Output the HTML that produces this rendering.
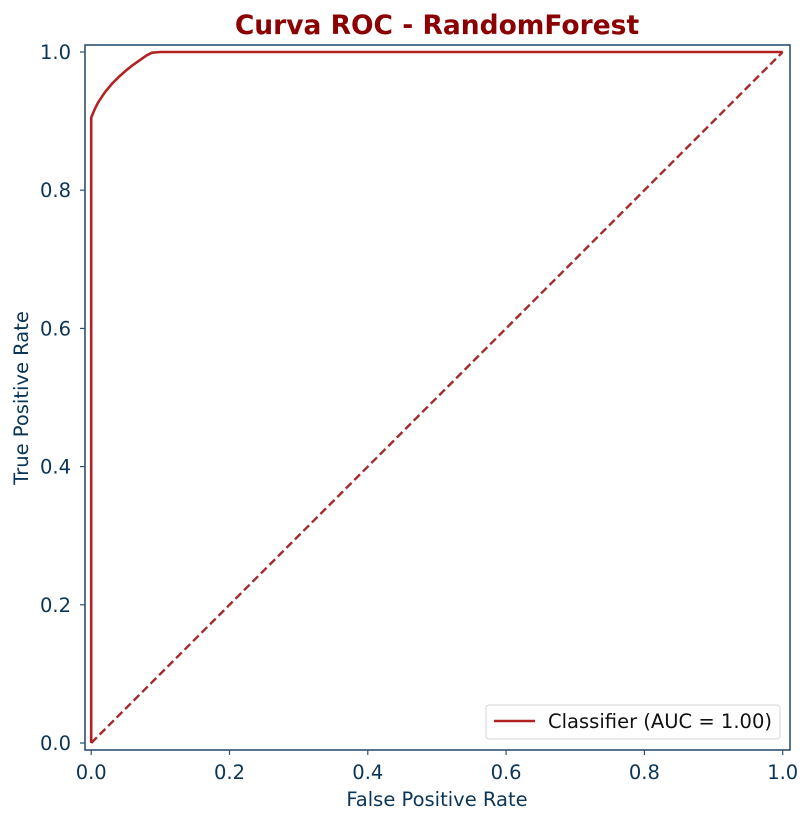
<!DOCTYPE html>
<html><head><meta charset="utf-8"><style>
body{margin:0;background:#fff}
svg{display:block;font-family:"DejaVu Sans","Liberation Sans",sans-serif}
</style></head><body>
<svg id="c" width="812" height="823"></svg>
<script>
const fprValues=[0,0,0.005,0.01,0.02,0.03,0.04,0.05,0.06,0.07,0.08,0.088,0.1,1];
const tprValues=[0,0.905,0.917,0.927,0.942,0.954,0.964,0.973,0.981,0.988,0.995,0.999,1,1];
const diagX=[0,1];
const diagY=[0,1];
const xTicks=[0,0.2,0.4,0.6,0.8,1.0];
const yTicks=[0,0.2,0.4,0.6,0.8,1.0];
const NS="http://www.w3.org/2000/svg";
const svg=document.getElementById('c');
const X=v=>91.2+v*691.5, Y=v=>743-v*691;
function el(t,a,txt){const e=document.createElementNS(NS,t);for(const k in a)e.setAttribute(k,a[k]);if(txt!=null)e.textContent=txt;svg.appendChild(e);return e;}
const navy="#0b3556", spine="#2e5070";
let e=el('text',{x:437,y:34,'text-anchor':'middle','font-size':'26.5','font-weight':'bold',fill:'#8b0000'},'Curva ROC - RandomForest');

xTicks.forEach(t=>{
 let l=el('line',{x1:X(t),x2:X(t),y1:750,y2:755,stroke:spine,'stroke-width':1.2});
 
 let tx=el('text',{x:X(t),y:779,'text-anchor':'middle','font-size':'19.5',fill:navy},t.toFixed(1));
 
});
yTicks.forEach(t=>{
 let l=el('line',{x1:80,x2:85,y1:Y(t),y2:Y(t),stroke:spine,'stroke-width':1.2});
 
 let tx=el('text',{x:71,y:Y(t)+7,'text-anchor':'end','font-size':'19.5',fill:navy},t.toFixed(1));
 
});
e=el('text',{x:437,y:806,'text-anchor':'middle','font-size':'19.5',fill:navy},'False Positive Rate');

e=el('text',{x:28,y:398,'text-anchor':'middle','font-size':'19.5',fill:navy,transform:'rotate(-90 28 398)'},'True Positive Rate');

e=el('polyline',{points:diagX.map((v,i)=>X(v)+','+Y(diagY[i])).join(' '),fill:'none',stroke:'#a52a2a','stroke-width':2.4,'stroke-dasharray':'8,4'});

e=el('polyline',{points:fprValues.map((v,i)=>X(v)+','+Y(tprValues[i])).join(' '),fill:'none',stroke:'#b22222','stroke-width':2.6,'stroke-linejoin':'round'});

e=el('rect',{x:85,y:45,width:705,height:705,fill:'none',stroke:spine,'stroke-width':1.6});

e=el('rect',{x:486,y:705,width:294,height:34,rx:3,fill:'#fff',stroke:'#d6d6d6','stroke-width':1});

e=el('line',{x1:494,x2:535,y1:721,y2:721,stroke:'#b22222','stroke-width':2.6});

e=el('text',{x:548,y:728,'font-size':'19.5',fill:'#111',textLength:'224'},'Classifier (AUC = 1.00)');

</script>
</body></html>
